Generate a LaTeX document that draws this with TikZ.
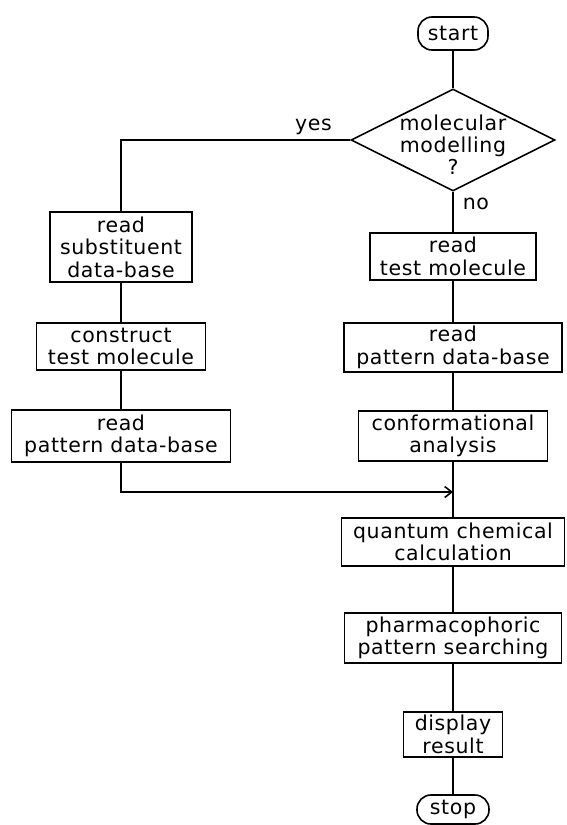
\documentclass[tikz,border=0pt]{standalone}
\usepackage{fontspec}
\setmainfont{DejaVu Sans}[LetterSpace=3]
\usetikzlibrary{arrows.meta,shapes.geometric}

\begin{document}
\begin{tikzpicture}[
  x=1pt,y=-1pt,
  every node/.style={font=\fontsize{20.5}{22.5}\selectfont},
  box/.style={draw,line width=1.6pt,minimum width=#1,minimum height=48pt,inner sep=1pt,align=center},
  term/.style={draw,line width=1.6pt,rounded corners=14pt,minimum width=#1,minimum height=32pt,inner sep=1pt},
  decision/.style={draw,line width=1.6pt,diamond,minimum width=204pt,minimum height=102pt,inner sep=0pt},
  line/.style={line width=1.6pt},
  arr/.style={line width=1.6pt,-{Straight Barb[length=7pt,width=11pt]}},
]
  \useasboundingbox (0,0) rectangle (567,825);

  % main column
  \node[term=70pt,minimum height=33pt] (start) at (453,33.5) {start};
  \node[decision] (model) at (453,140) {\smash{\makebox[0pt]{\raisebox{-13pt}{\fontsize{20.5}{20.5}\selectfont
    \begin{tabular}{@{}c@{}}molecular\\modelling\\?\end{tabular}}}}};
  \node[box=166pt,minimum height=47pt] (readt) at (453,256.5) {read\\test molecule};
  \node[box=218pt,minimum height=49pt] (patr) at (453,347.5) {read\\pattern data-base};
  \node[box=189pt,minimum height=50pt] (conf) at (453,436) {conformational\\analysis};
  \node[box=223pt] (quant) at (453,542) {quantum chemical\\calculation};
  \node[box=217pt,minimum height=50pt] (pharm) at (453,638) {pharmacophoric\\pattern searching};
  \node[box=99pt,minimum height=45pt] (disp) at (453,734.5) {display\\result};
  \node[term=72pt,minimum height=29pt] (stop) at (453,809.5) {stop};

  % modelling branch
  \node[box=142pt,minimum height=70pt] (sub) at (121,247) {read\\substituent\\data-base};
  \node[box=169pt,minimum height=47pt] (cons) at (121,346.5) {construct\\test molecule};
  \node[box=219pt,minimum height=52pt] (patl) at (121,436) {read\\pattern data-base};
  \coordinate (join) at (453,492);

  \draw[line] (start) -- (model);
  \draw[line] (model.south) -- node[pos=0.3,right,inner sep=9pt]{no} (readt.north);
  \draw[line] (model.west) -| node[pos=0.08,above,inner sep=4pt]{yes} (sub.north);
  \draw[line] (readt) -- (patr);
  \draw[line] (patr) -- (conf);
  \draw[line] (conf) -- (quant);
  \draw[line] (quant) -- (pharm);
  \draw[line] (pharm) -- (disp);
  \draw[line] (disp) -- (stop);
  \draw[line] (sub) -- (cons);
  \draw[line] (cons) -- (patl);
  \draw[arr] (patl.south) |- (join);
\end{tikzpicture}
\end{document}
